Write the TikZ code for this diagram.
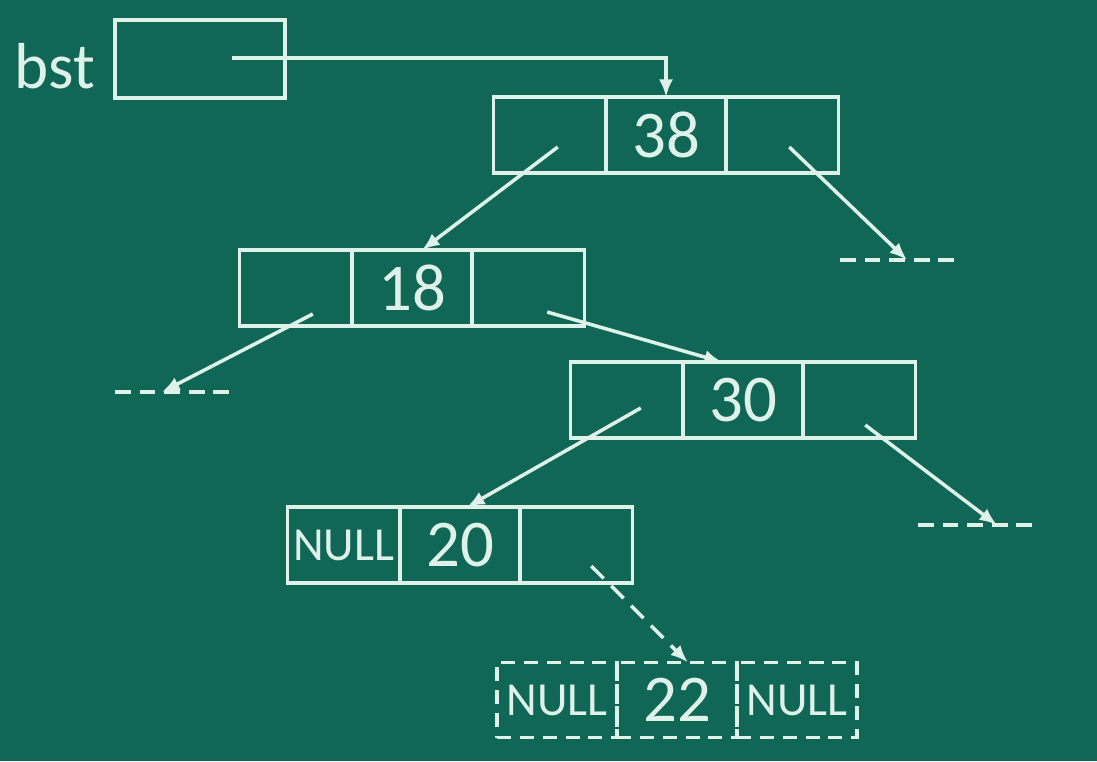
\documentclass[tikz,border=0pt]{standalone}
\usepackage{fontspec}
\setmainfont{Carlito}
\usetikzlibrary{arrows.meta,positioning}
\definecolor{board}{RGB}{16,103,86}
\definecolor{chalk}{RGB}{222,242,234}
\begin{document}
\begin{tikzpicture}[x=0.02cm,y=-0.02cm,
  cell/.style={draw=chalk,line width=2.1pt,minimum height=1.52cm,inner sep=0pt,outer sep=0pt,text=chalk},
  side/.style={cell,minimum width=2.25cm},
  key/.style={cell,minimum width=2.4cm,font=\fontsize{38}{40}\selectfont},
  nul/.style={font=\fontsize{27}{28}\selectfont},
  ghost/.style={dash pattern=on 8pt off 5pt},
  ptr/.style={chalk,line width=2pt,-{Latex[length=10pt,width=8pt]}},
  nil/.style={chalk,line width=2.1pt,dash pattern=on 9pt off 5pt}]
  \fill[board] (0,0) rectangle (1097,761);
  % root pointer
  \node[text=chalk,font=\fontsize{37}{39}\selectfont] (lbl) at (55,66) {bst};
  \node[cell,minimum width=3.4cm,minimum height=1.56cm] (bst) at (200,59) {};
  % 38
  \node[key] (n38k) at (666,135) {38};
  \node[side,left=0pt of n38k] (n38l) {};
  \node[side,right=0pt of n38k] (n38r) {};
  % 18
  \node[key] (n18k) at (412,288) {18};
  \node[side,left=0pt of n18k] (n18l) {};
  \node[side,right=0pt of n18k] (n18r) {};
  % 30
  \node[key] (n30k) at (743,400) {30};
  \node[side,left=0pt of n30k] (n30l) {};
  \node[side,right=0pt of n30k] (n30r) {};
  % 20
  \node[key] (n20k) at (460,545) {20};
  \node[side,nul,left=0pt of n20k] (n20l) {NULL};
  \node[side,right=0pt of n20k] (n20r) {};
  % 22, not yet inserted
  \node[key,ghost,minimum height=1.5cm] (n22k) at (677,700) {22};
  \node[side,nul,ghost,minimum width=2.4cm,minimum height=1.5cm,left=0pt of n22k] (n22l) {NULL};
  \node[side,nul,ghost,minimum width=2.4cm,minimum height=1.5cm,right=0pt of n22k] (n22r) {NULL};
  % empty links
  \coordinate (nil38) at (900,260);
  \coordinate (nil18) at (173,392);
  \coordinate (nil30) at (978,525);
  \draw[nil] ([shift={(-60,0)}]nil38) -- ([shift={(60,0)}]nil38);
  \draw[nil] ([shift={(-58,0)}]nil18) -- ([shift={(58,0)}]nil18);
  \draw[nil] ([shift={(-60,0)}]nil30) -- ([shift={(60,0)}]nil30);
  % links
  \draw[ptr] ([shift={(32,-1)}]bst.center) -| (n38k.north);
  \draw[ptr] ([shift={(8,12)}]n38l.center) -- ([shift={(10,0)}]n18k.north);
  \draw[ptr] ([shift={(7,12)}]n38r.center) -- ([shift={(7,0)}]nil38);
  \draw[ptr] ([shift={(17,26)}]n18l.center) -- ([shift={(-11,0)}]nil18);
  \draw[ptr] ([shift={(19,24)}]n18r.center) -- ([shift={(-21,0)}]n30k.north);
  \draw[ptr] ([shift={(14,8)}]n30l.center) -- ([shift={(7,0)}]n20k.north);
  \draw[ptr] ([shift={(6,25)}]n30r.center) -- ([shift={(19,0)}]nil30);
  \draw[ptr,dash pattern=on 10pt off 6pt] ([shift={(15,21)}]n20r.center) -- ([shift={(11,0)}]n22k.north);
\end{tikzpicture}
\end{document}
